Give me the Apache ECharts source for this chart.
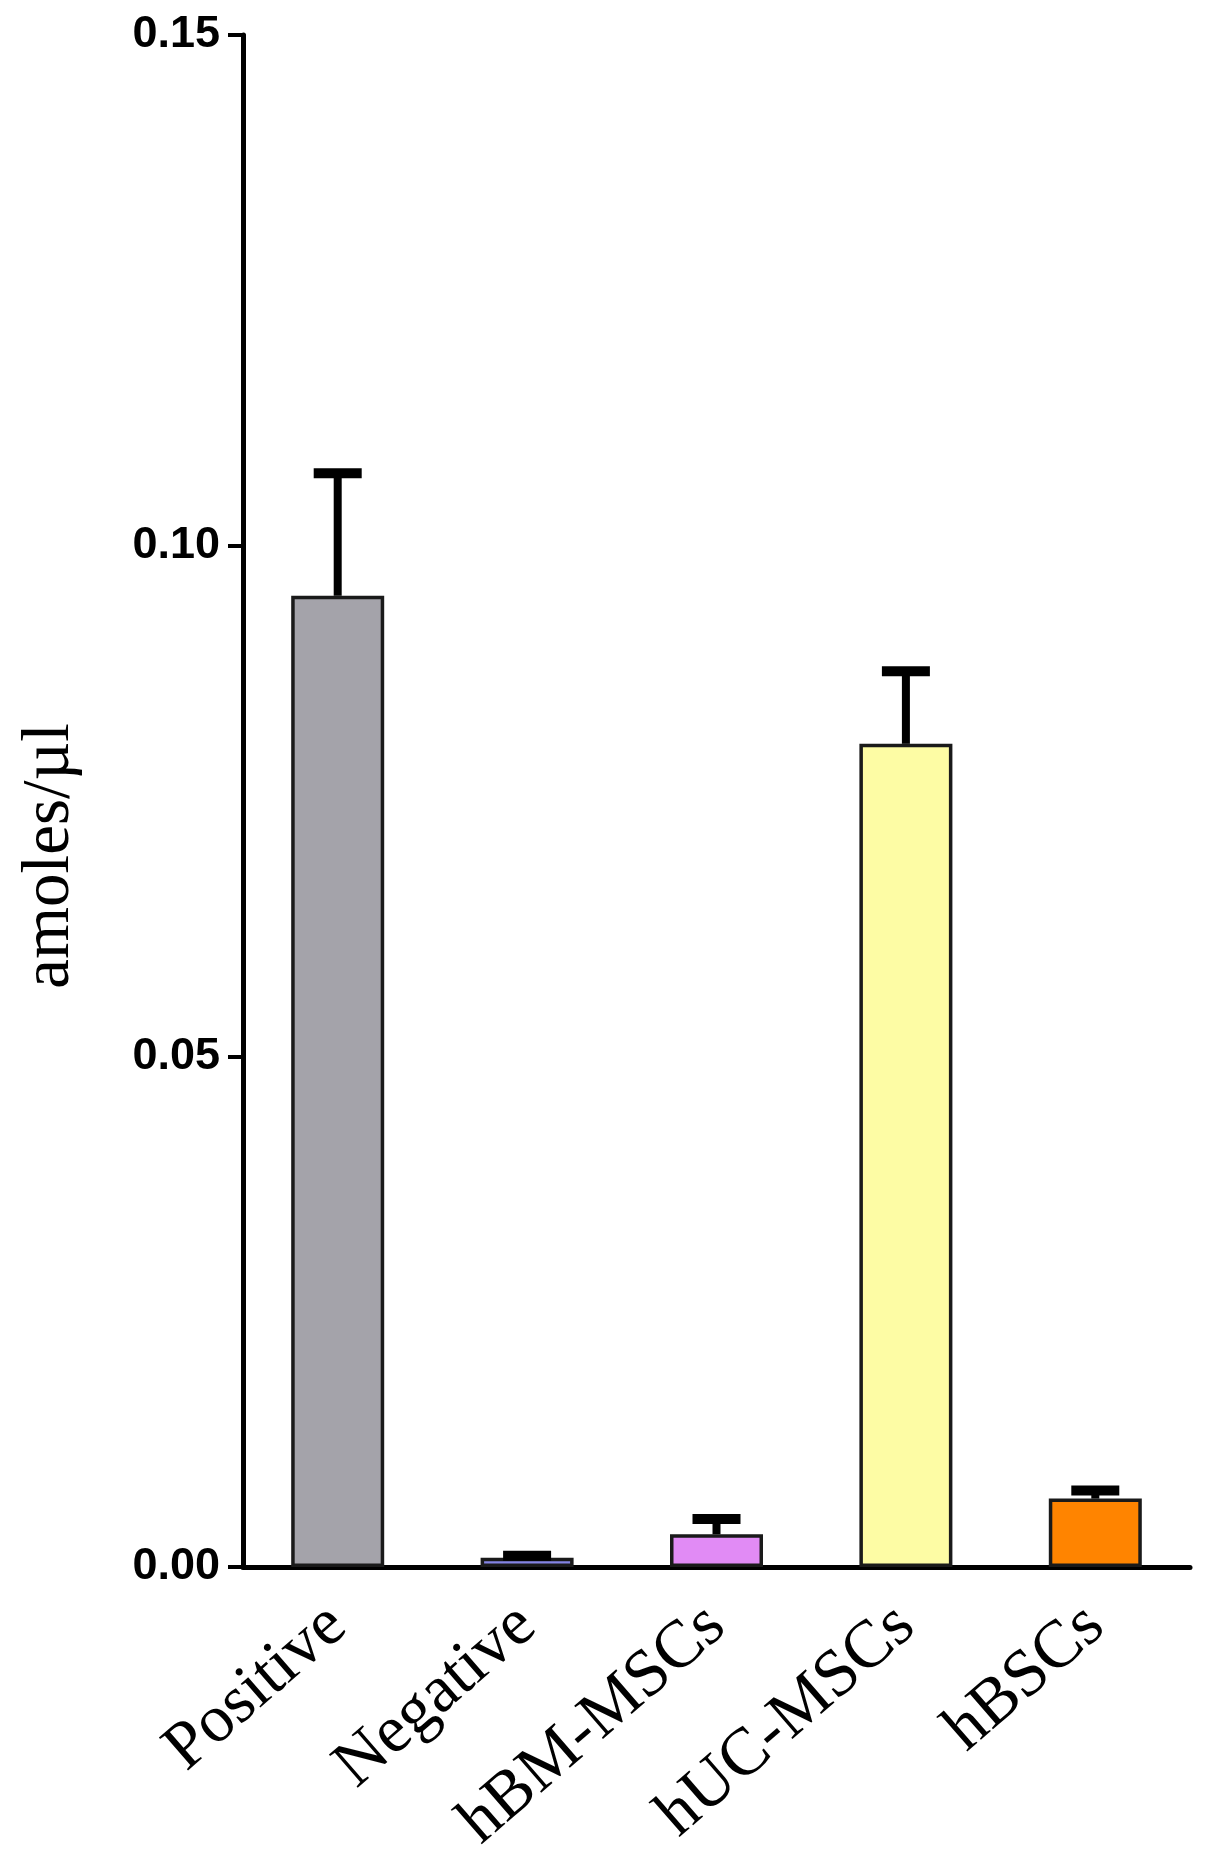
<!DOCTYPE html>
<html>
<head>
<meta charset="utf-8">
<script src="https://cdn.jsdelivr.net/npm/echarts@6/dist/echarts.min.js"></script>
<style>html,body{margin:0;padding:0;background:#fff;}#c{width:1205px;height:1860px;}</style>
</head>
<body>
<div id="c"></div>
<script>
const categories = ['Positive', 'Negative', 'hBM-MSCs', 'hUC-MSCs', 'hBSCs'];
const means = [0.0951, 0.0009, 0.0032, 0.0806, 0.0067];
const errors = [0.0120, 0.0002, 0.0015, 0.0071, 0.0008];
const barColors = ['#a4a3aa', '#8484e4', '#e18bf5', '#fdfca4', '#ff8400'];
const yTicks = [0, 0.05, 0.10, 0.15];

const chart = echarts.init(document.getElementById('c'));
chart.setOption({
  animation: false,
  backgroundColor: '#ffffff',
  grid: { left: 243, right: 15, top: 35, bottom: 293 },
  xAxis: {
    type: 'category',
    data: categories,
    axisLine: { lineStyle: { color: '#000', width: 5 } },
    axisTick: { alignWithLabel: true, length: 18, lineStyle: { color: '#000', width: 5 } },
    axisLabel: { rotate: 41, margin: 50, fontFamily: 'Liberation Serif', fontSize: 67, color: '#000' }
  },
  yAxis: {
    type: 'value',
    min: 0, max: 0.15, interval: 0.05,
    splitLine: { show: false },
    axisLine: { show: true, lineStyle: { color: '#000', width: 5 } },
    axisTick: { show: true, length: 15, lineStyle: { color: '#000', width: 4 } },
    axisLabel: {
      margin: 23, fontFamily: 'Liberation Sans', fontWeight: 'bold', fontSize: 45, color: '#000',
      formatter: v => yTicks.some(t => Math.abs(t - v) < 1e-9) ? v.toFixed(2) : ''
    }
  },
  graphic: [{
    type: 'text', x: 50, y: 856, rotation: Math.PI / 2,
    style: { text: 'amoles/\u00b5l', fontFamily: 'Liberation Serif', fontSize: 67, fill: '#000', align: 'center', verticalAlign: 'middle' }
  }],
  series: [
    {
      type: 'bar',
      barWidth: 93,
      data: means.map((v, i) => ({ value: v, itemStyle: { color: barColors[i] } })),
      itemStyle: { borderColor: '#1a1a1a', borderWidth: 3.5 },
      z: 2
    },
    {
      type: 'custom',
      z: 3,
      data: means.map((v, i) => [i, v, v + errors[i]]),
      renderItem: function (params, api) {
        const p0 = api.coord([api.value(0), api.value(1)]);
        const p1 = api.coord([api.value(0), api.value(2)]);
        return {
          type: 'group',
          children: [
            { type: 'line', shape: { x1: p0[0], y1: p0[1], x2: p1[0], y2: p1[1] }, style: { stroke: '#000', lineWidth: 8 } },
            { type: 'line', shape: { x1: p1[0] - 24, y1: p1[1], x2: p1[0] + 24, y2: p1[1] }, style: { stroke: '#000', lineWidth: 10 } }
          ]
        };
      }
    }
  ]
});
</script>
</body>
</html>
